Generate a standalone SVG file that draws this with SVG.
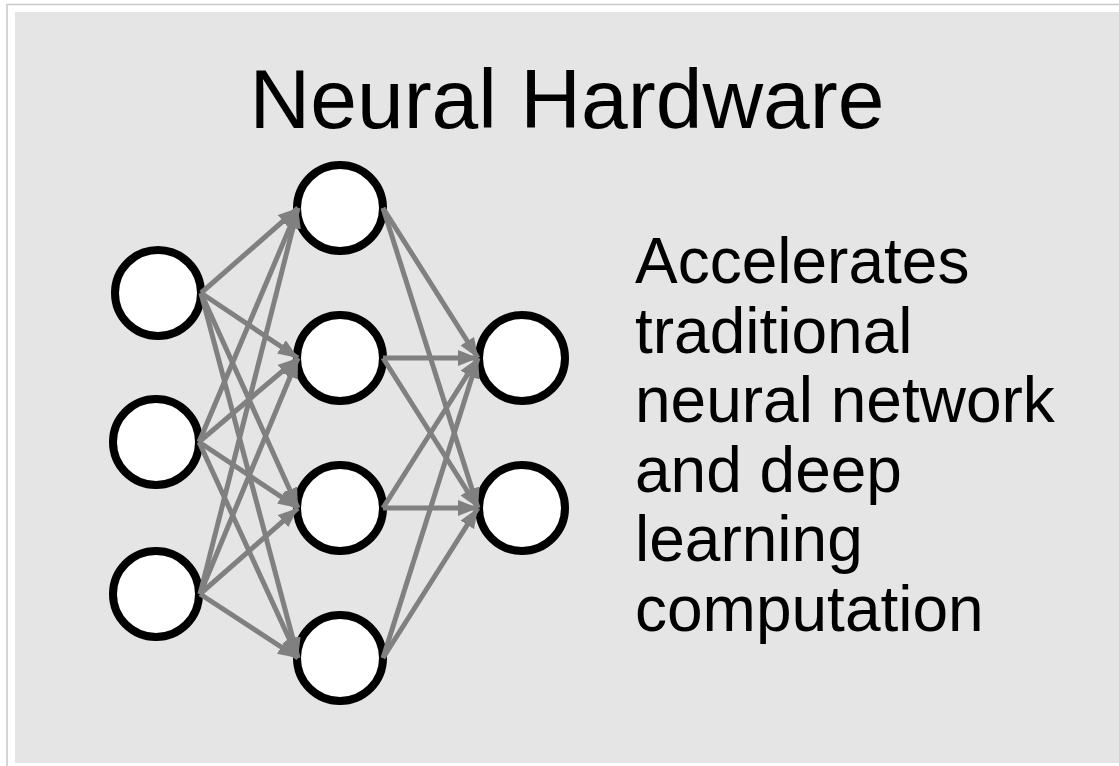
<svg xmlns="http://www.w3.org/2000/svg" width="1119" height="766" viewBox="0 0 1119 766">
  <defs>
    <style>
      .node { fill: #ffffff; stroke: #000000; stroke-width: 8; }
      .edge { stroke: #808080; stroke-width: 5; fill: none; marker-end: url(#arr); }
      .title { font-family: "Liberation Sans", Arial, sans-serif; font-size: 84px; fill: #000; }
      .desc { font-family: "Liberation Sans", Arial, sans-serif; font-size: 64px; fill: #000; }
    </style>
    <marker id="arr" markerUnits="userSpaceOnUse" markerWidth="22" markerHeight="18" refX="20" refY="8" orient="auto" viewBox="0 0 22 18">
      <path d="M0,0 L20,8 L0,16 Z" fill="#808080"/>
    </marker>
  </defs>
  <rect x="0" y="0" width="1119" height="766" fill="#ffffff"/>
  <rect x="7" y="4.5" width="1130" height="780" fill="none" stroke="#c8c8c8" stroke-width="1.5"/>
  <rect x="15" y="12" width="1110" height="751" fill="#e5e5e5"/>

  <g id="title"><text class="title" x="567" y="128" text-anchor="middle">Neural Hardware</text></g>

  <g id="description">
    <text class="desc" x="635" y="283">Accelerates</text>
    <text class="desc" x="635" y="352.5">traditional</text>
    <text class="desc" x="635" y="422">neural network</text>
    <text class="desc" x="635" y="491.5">and deep</text>
    <text class="desc" x="635" y="561">learning</text>
    <text class="desc" x="635" y="630.5">computation</text>
  </g>

  <g id="in1"><circle class="node" cx="158" cy="293" r="43"/></g>
  <g id="in2"><circle class="node" cx="156" cy="442" r="43"/></g>
  <g id="in3"><circle class="node" cx="156" cy="594" r="43"/></g>
  <g id="h1"><circle class="node" cx="340" cy="208" r="43"/></g>
  <g id="h2"><circle class="node" cx="340" cy="358" r="43"/></g>
  <g id="h3"><circle class="node" cx="340" cy="508" r="43"/></g>
  <g id="h4"><circle class="node" cx="340" cy="658" r="43"/></g>
  <g id="out1"><circle class="node" cx="522" cy="358" r="43"/></g>
  <g id="out2"><circle class="node" cx="522" cy="508" r="43"/></g>

  <g id="connectors">
    <line class="edge" x1="201" y1="293" x2="298" y2="208"/>
    <line class="edge" x1="201" y1="293" x2="298" y2="358"/>
    <line class="edge" x1="201" y1="293" x2="298" y2="508"/>
    <line class="edge" x1="201" y1="293" x2="298" y2="658"/>
    <line class="edge" x1="199" y1="442" x2="298" y2="208"/>
    <line class="edge" x1="199" y1="442" x2="298" y2="358"/>
    <line class="edge" x1="199" y1="442" x2="298" y2="508"/>
    <line class="edge" x1="199" y1="442" x2="298" y2="658"/>
    <line class="edge" x1="200" y1="594" x2="298" y2="208"/>
    <line class="edge" x1="200" y1="594" x2="298" y2="358"/>
    <line class="edge" x1="200" y1="594" x2="298" y2="508"/>
    <line class="edge" x1="200" y1="594" x2="298" y2="658"/>
    <line class="edge" x1="383" y1="208" x2="478" y2="358"/>
    <line class="edge" x1="383" y1="208" x2="478" y2="508"/>
    <line class="edge" x1="383" y1="358" x2="478" y2="358"/>
    <line class="edge" x1="383" y1="358" x2="478" y2="508"/>
    <line class="edge" x1="383" y1="508" x2="478" y2="358"/>
    <line class="edge" x1="383" y1="508" x2="478" y2="508"/>
    <line class="edge" x1="383" y1="658" x2="478" y2="358"/>
    <line class="edge" x1="383" y1="658" x2="478" y2="508"/>
  </g>
</svg>
